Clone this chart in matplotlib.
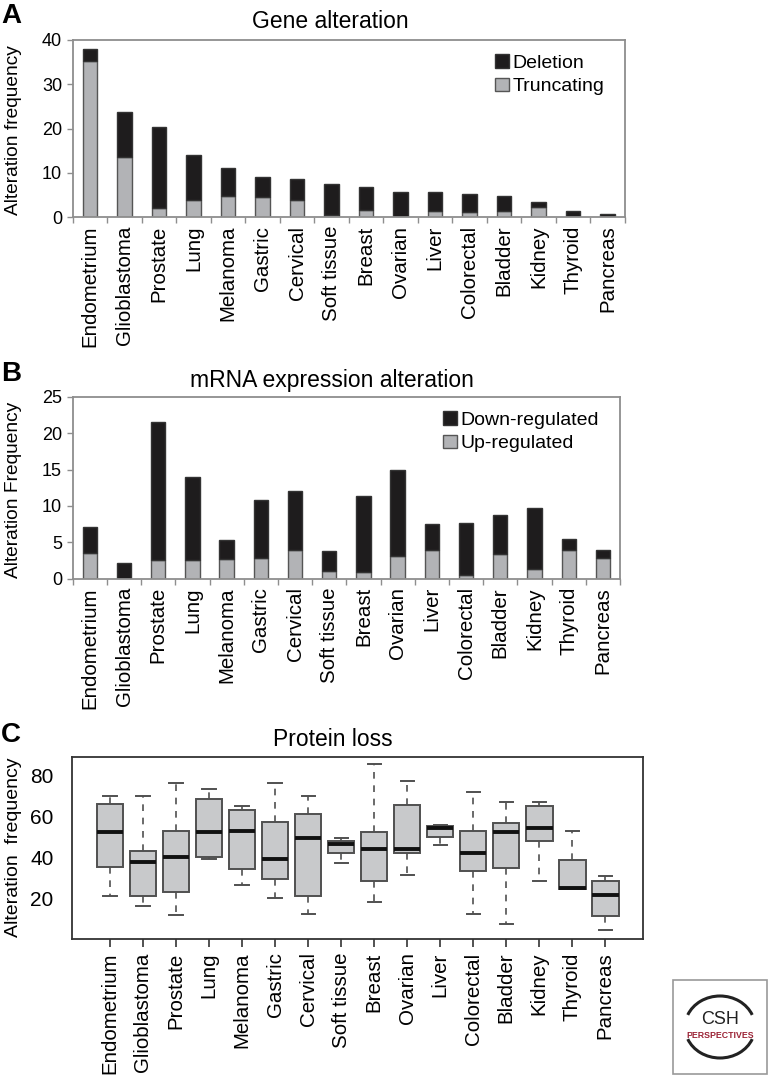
import numpy as np
import matplotlib
matplotlib.use('Agg')
import matplotlib.pyplot as plt
from matplotlib.patches import Patch, Rectangle, Arc

plt.rcParams['font.family'] = ['Liberation Sans', 'DejaVu Sans']

tumors = ['Endometrium', 'Glioblastoma', 'Prostate', 'Lung', 'Melanoma', 'Gastric',
          'Cervical', 'Soft tissue', 'Breast', 'Ovarian', 'Liver', 'Colorectal',
          'Bladder', 'Kidney', 'Thyroid', 'Pancreas']

# A: gene alteration (stacked: truncating at bottom, deletion on top)
truncating = [35.3, 13.6, 2.0, 3.8, 4.7, 4.5, 3.8, 0.5, 1.7, 0.0, 1.4, 1.3, 1.4, 2.3, 0.0, 0.0]
deletion = [2.7, 10.2, 18.3, 10.3, 6.5, 4.6, 4.9, 6.9, 5.2, 5.8, 4.2, 3.9, 3.3, 1.2, 1.4, 0.75]

# B: mRNA expression alteration
up_reg = [3.5, 0.0, 2.55, 2.55, 2.65, 2.9, 4.0, 1.1, 0.9, 3.15, 4.0, 0.45, 3.4, 1.4, 3.9, 2.8]
down_reg = [3.65, 2.2, 18.95, 11.45, 2.65, 7.95, 8.0, 2.7, 10.4, 11.85, 3.45, 7.2, 5.4, 8.3, 1.6, 1.1]

# C: protein loss box stats
prot_whislo = [21.1, 16.4, 12.0, 39.2, 26.5, 20.3, 12.7, 37.4, 18.4, 31.5, 46.0, 12.5, 7.6, 28.5, 24.6, 4.6]
prot_q1 = [35.3, 21.1, 23.4, 40.2, 34.6, 29.6, 21.3, 42.3, 28.8, 42.1, 49.9, 33.7, 35.1, 48.1, 24.6, 11.7]
prot_med = [52.7, 37.9, 40.3, 52.7, 53.2, 39.3, 49.8, 46.8, 44.2, 44.2, 54.5, 42.3, 52.4, 54.6, 25.2, 22.0]
prot_q3 = [66.3, 43.3, 53.3, 68.8, 63.1, 57.7, 61.6, 48.0, 52.5, 65.9, 55.3, 53.3, 57.2, 65.2, 38.9, 28.8]
prot_whishi = [70.1, 70.1, 76.3, 73.8, 65.2, 76.6, 70.1, 49.8, 86.0, 77.7, 56.1, 72.0, 67.2, 67.2, 53.3, 30.9]

W, H = 769, 1077
fig = plt.figure(figsize=(W / 100, H / 100), dpi=100)


def add_ax(l, t, r, b):
    return fig.add_axes([l / W, 1 - b / H, (r - l) / W, (b - t) / H])


black = '#1e1c1d'
grey = '#b2b3b6'
frame = '#8e8e8e'
x = np.arange(len(tumors))


def bar_panel(ax, bottom_vals, top_vals, ymax, ystep, ylabel, labels, lx, ly, labx):
    ax.bar(x, bottom_vals, width=0.42, color=grey, edgecolor='#555555', linewidth=1)
    ax.bar(x, top_vals, width=0.42, bottom=bottom_vals, color=black,
           edgecolor='#333333', linewidth=1)
    ax.set_xlim(-0.5, len(tumors) - 0.5)
    ax.set_ylim(0, ymax)
    ax.set_yticks(np.arange(0, ymax + 1, ystep))
    ax.set_xticks(x)
    ax.set_xticklabels(tumors, rotation=90, fontsize=14.8)
    ax.set_xticks(np.arange(-0.5, len(tumors), 1), minor=True)
    ax.tick_params(axis='x', which='major', length=0, pad=6)
    ax.tick_params(axis='x', which='minor', length=4, width=1, color=frame)
    ax.tick_params(axis='y', length=4.3, width=1, color=frame, pad=3.4, labelsize=13)
    for s in ax.spines.values():
        s.set_color(frame)
        s.set_linewidth(1.3)
    ax.set_ylabel(ylabel, fontsize=13.8)
    ax.yaxis.set_label_coords(labx, 0.49)
    handles = [Patch(facecolor=black, edgecolor='#333333'),
               Patch(facecolor=grey, edgecolor='#555555')]
    ax.legend(handles, labels, loc='upper left', bbox_to_anchor=(lx, ly),
              frameon=False, fontsize=14, handlelength=0.7, handleheight=0.7,
              handletextpad=0.2, labelspacing=0.3, borderpad=0, borderaxespad=0)


# Panel A
axA = add_ax(72.7, 40, 625, 217.3)
bar_panel(axA, truncating, deletion, 40, 10, 'Alteration frequency',
          ['Deletion', 'Truncating'], 0.765, 0.92, -0.092)

# Panel B
axB = add_ax(72.7, 396.7, 620, 578.7)
bar_panel(axB, up_reg, down_reg, 25, 5, 'Alteration Frequency',
          ['Down-regulated', 'Up-regulated'], 0.677, 0.92, -0.093)

# Panel C
axC = add_ax(72.3, 756.7, 643, 938.5)
stats = []
for i in range(len(tumors)):
    stats.append(dict(whislo=prot_whislo[i], q1=prot_q1[i], med=prot_med[i],
                      q3=prot_q3[i], whishi=prot_whishi[i], fliers=[]))
axC.bxp(stats, positions=x + 1, widths=0.8, capwidths=0.4, patch_artist=True,
        showfliers=False,
        boxprops=dict(facecolor='#c8c9cb', edgecolor='#505050', linewidth=1.4),
        medianprops=dict(color='#111111', linewidth=2.8, solid_capstyle='butt'),
        whiskerprops=dict(color='#505050', linewidth=1.2, linestyle=(0, (4, 4))),
        capprops=dict(color='#505050', linewidth=1.4))
axC.set_xlim(-0.14, 17.14)
axC.set_ylim(0.5, 89.4)
axC.set_yticks([20, 40, 60, 80])
axC.set_xticks(x + 1)
axC.set_xticklabels(tumors, rotation=90, fontsize=14.8)
axC.tick_params(axis='x', length=6, width=1.2, color='#333333', pad=4)
axC.tick_params(axis='y', length=0, pad=13.5, labelsize=15)
for s in axC.spines.values():
    s.set_color('#333333')
    s.set_linewidth(1.3)
axC.set_ylabel('Alteration  frequency', fontsize=14)
axC.yaxis.set_label_coords(-0.088, 0.5)

# titles and panel letters
fig.text(330 / W, 1 - 22 / H, 'Gene alteration', ha='center', va='center', fontsize=16.5)
fig.text(332 / W, 1 - 380 / H, 'mRNA expression alteration', ha='center', va='center', fontsize=16.5)
fig.text(333 / W, 1 - 740 / H, 'Protein loss', ha='center', va='center', fontsize=16.5)
for letter, yy in [('A', 16), ('B', 374), ('C', 735)]:
    fig.text(1 / W, 1 - yy / H, letter, ha='left', va='center', fontsize=20, fontweight='bold')

# CSH Perspectives logo
fig.patches.append(Rectangle((673 / W, 1 - 1074 / H), 94 / W, 94 / H, transform=fig.transFigure,
                             facecolor='white', edgecolor='#999999', linewidth=1.2))
fig.patches.append(Arc((720 / W, 1 - 1027 / H), 70 / W, 62 / H, theta1=15, theta2=165,
                       transform=fig.transFigure, color='#222222', linewidth=2.2))
fig.patches.append(Arc((720 / W, 1 - 1027 / H), 70 / W, 62 / H, theta1=195, theta2=345,
                       transform=fig.transFigure, color='#222222', linewidth=2.2))
fig.text(720 / W, 1 - 1019 / H, 'CSH', ha='center', va='center', fontsize=13, color='#222222')
fig.text(720 / W, 1 - 1036 / H, 'PERSPECTIVES', ha='center', va='center', fontsize=6.3,
         color='#9b2335', fontweight='bold')

fig.savefig('out.png', dpi=100)
